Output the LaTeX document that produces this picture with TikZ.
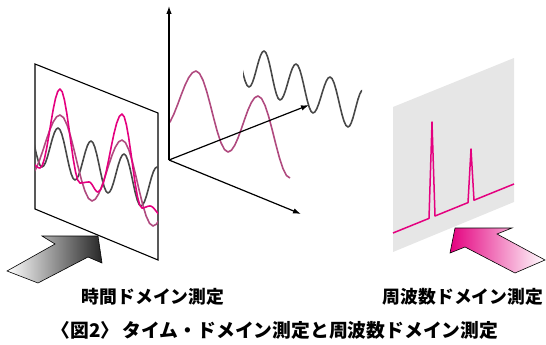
\documentclass[tikz,border=0pt]{standalone}
\usepackage{fontspec}
\newfontfamily\jp{Noto Sans CJK JP}
\usetikzlibrary{arrows.meta}
\definecolor{mag}{HTML}{E4007F}
\definecolor{mauve}{HTML}{B04A7F}
\definecolor{dgray}{HTML}{484848}
\definecolor{panel}{HTML}{E6E6E6}
\tikzset{
  frameline/.style={black,line width=1.1pt,line join=miter},
  axisline/.style={black,line width=1.2pt,-{Latex[length=8pt,width=5.5pt]}},
  wavemag/.style={mag,line width=1.6pt,line join=round},
  wavemauve/.style={mauve,line width=1.6pt,line join=round},
  wavegray/.style={dgray,line width=1.6pt,line join=round},
  spec/.style={mag,line width=1.5pt,line join=round},
  label/.style={font=\jp\bfseries\fontsize{17.8}{20}\selectfont,inner sep=0pt},
  caplabel/.style={font=\jp\bfseries\fontsize{18.8}{21}\selectfont,inner sep=0pt}
}
% cosine-interpolated wave through extrema
\newcommand\cwave[4]{%
  \draw[#1] (#2,#3) \foreach \xb/\yb [remember=\xb as \xa (initially #2),remember=\yb as \ya (initially #3)] in {#4}
   { -- plot[domain=0:1,samples=10,variable=\t] ({\xa+(\xb-\xa)*\t},{\ya+(\yb-\ya)*(1-cos(180*\t))/2}) };}
\begin{document}
\begin{tikzpicture}[x=1pt,y=-1pt]
\useasboundingbox (0,0) rectangle (546,345);
% ---------- left arrow ----------
\shadedraw[left color=white,right color=black!85,draw=black,line width=0.6pt,line join=miter]
  (7,271) -- (55,244) -- (42,236) -- (98,236) -- (102,263) -- (88,257) -- (38,283) -- cycle;
% ---------- left panel ----------
\draw[frameline] (35,64) -- (158,113) -- (158,260) -- (35,209) -- cycle;
\begin{scope}
  \clip (35,0) rectangle (158,345);
  \cwave{wavegray}{25}{115}{42/167,58/128,75/180,91/141,108/193,124/154,141/206,157/167,174/219}
  \cwave{wavemauve}{29}{176}{60/115,92/201,122/140,153/226,184/165}
  \cwave{wavemag}{28}{160}{40/168,60/89,80/183,89/182,98/192,122/114,142/208,150/206,162/216}
\end{scope}
% ---------- middle ----------
\begin{scope}
  \clip (169,0) rectangle (292,345);
  \cwave{wavemauve}{163}{128}{196/71,228/152,258/96,290/178}
\end{scope}
\begin{scope}
  \clip (243,0) rectangle (362,345);
  \cwave{wavegray}{232}{38}{249/87,264/51,280/100,296/64,313/113,330/77,348/127,363/90}
\end{scope}
\coordinate (O) at (169,160);
\coordinate (Az) at (169,6);
\coordinate (Af) at (309,105);
\coordinate (At) at (301,214);
\draw[axisline] (O) -- (Az);
\draw[axisline] (O) -- (Af);
\draw[axisline] (O) -- (At);
% ---------- right panel ----------
\fill[panel] (393,107) -- (514,58) -- (514,202) -- (393,252) -- cycle;
\draw[spec] (393,233) -- (429,218.4) -- (432,122) -- (435,216) -- (468,202.6) -- (471,149) -- (474,200.2) -- (514,184);
\shadedraw[left color=mag,right color=white,draw=black,line width=0.6pt,line join=miter]
  (455,228) -- (512,228) -- (497,234) -- (545,260) -- (515,273) -- (465,247) -- (450,253) -- cycle;
% ---------- texts ----------
\node[label] (tl) at (153,297) {時間ドメイン測定};
\node[label] (fl) at (463,297) {周波数ドメイン測定};
\node[caplabel] (cap) at (275,330) {〈図2〉\hspace{3pt}タイム・ドメイン測定と周波数ドメイン測定};
\end{tikzpicture}
\end{document}
